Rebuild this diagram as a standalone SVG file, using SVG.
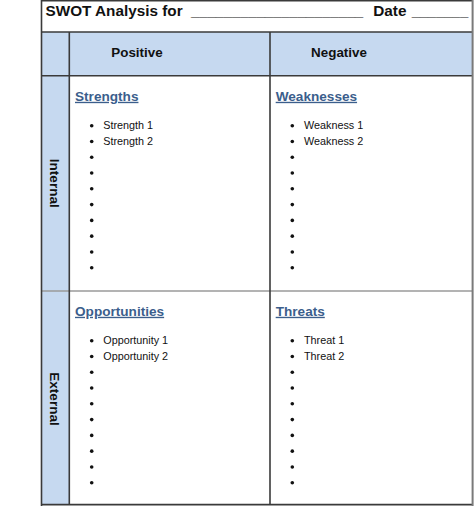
<svg xmlns="http://www.w3.org/2000/svg" width="474" height="506" viewBox="0 0 474 506">
<style>
  text { font-family: "Liberation Sans", Arial, sans-serif; fill: #111; }
  .title { font-size: 15.3px; font-weight: bold; }
  .hdr { font-size: 13.4px; font-weight: bold; }
  .side { font-size: 13.6px; font-weight: bold; }
  .head { font-size: 13.6px; font-weight: bold; fill: #3b5e8c; text-decoration: underline; }
  .item { font-size: 10.8px; fill: #111; }
  .blue { fill: #c6d9f0; }
  .dark { stroke: #3a3a3a; stroke-width: 1.6; fill: none; }
  .gray { stroke: #9a9a9a; stroke-width: 1.6; fill: none; }
  .edge { stroke: #7a7a7a; stroke-width: 2; fill: none; }
  .dot { fill: #111; }
</style>
<defs>
  <g id="bullets">
    <circle cx="0" cy="0" r="1.8" class="dot"/>
    <circle cx="0" cy="15.78" r="1.8" class="dot"/>
    <circle cx="0" cy="31.56" r="1.8" class="dot"/>
    <circle cx="0" cy="47.34" r="1.8" class="dot"/>
    <circle cx="0" cy="63.12" r="1.8" class="dot"/>
    <circle cx="0" cy="78.9" r="1.8" class="dot"/>
    <circle cx="0" cy="94.68" r="1.8" class="dot"/>
    <circle cx="0" cy="110.46" r="1.8" class="dot"/>
    <circle cx="0" cy="126.24" r="1.8" class="dot"/>
    <circle cx="0" cy="142.02" r="1.8" class="dot"/>
  </g>
</defs>
<rect x="0" y="0" width="474" height="506" fill="#ffffff"/>
<g id="backgrounds">
  <rect class="blue" x="41.5" y="32" width="431" height="43.7"/>
  <rect class="blue" x="41.5" y="75.7" width="27.8" height="428.8"/>
</g>
<g id="title">
  <text class="title" x="45.5" y="16">SWOT Analysis for</text>
  <text class="title" x="191" y="16" textLength="172.3" lengthAdjust="spacingAndGlyphs">_____________________</text>
  <text class="title" x="373.3" y="16">Date</text>
  <text class="title" x="411.7" y="16" textLength="56.6" lengthAdjust="spacingAndGlyphs">_______</text>
</g>
<g id="header-positive"><text class="hdr" x="137" y="57.3" text-anchor="middle">Positive</text></g>
<g id="header-negative"><text class="hdr" x="339" y="57.3" text-anchor="middle">Negative</text></g>
<g id="label-internal"><text class="side" transform="translate(49.8,183.3) rotate(90)" text-anchor="middle">Internal</text></g>
<g id="label-external"><text class="side" transform="translate(49.8,399) rotate(90)" text-anchor="middle">External</text></g>
<g id="strengths">
  <text class="head" x="75" y="100.8">Strengths</text>
  <use href="#bullets" x="91.7" y="125.7"/>
  <text class="item" x="103.3" y="129.4">Strength 1</text>
  <text class="item" x="103.3" y="145.2">Strength 2</text>
</g>
<g id="weaknesses">
  <text class="head" x="275.7" y="100.8">Weaknesses</text>
  <use href="#bullets" x="292.3" y="125.7"/>
  <text class="item" x="304" y="129.4">Weakness 1</text>
  <text class="item" x="304" y="145.2">Weakness 2</text>
</g>
<g id="opportunities">
  <text class="head" x="75" y="315.8">Opportunities</text>
  <use href="#bullets" x="91.7" y="340.7"/>
  <text class="item" x="103.3" y="344.4">Opportunity 1</text>
  <text class="item" x="103.3" y="360.2">Opportunity 2</text>
</g>
<g id="threats">
  <text class="head" x="275.7" y="315.8">Threats</text>
  <use href="#bullets" x="292.3" y="340.7"/>
  <text class="item" x="304" y="344.4">Threat 1</text>
  <text class="item" x="304" y="360.2">Threat 2</text>
</g>
<g id="grid-lines">
  <line class="gray" x1="41.5" y1="291" x2="472" y2="291"/>
  <line class="dark" x1="41.5" y1="0.8" x2="473" y2="0.8"/>
  <line class="dark" x1="41.5" y1="32" x2="472" y2="32"/>
  <line class="dark" x1="41.5" y1="75.7" x2="472" y2="75.7"/>
  <line class="dark" x1="41.5" y1="504.6" x2="473" y2="504.6"/>
  <line class="dark" x1="41.5" y1="0" x2="41.5" y2="506"/>
  <line class="dark" x1="69.3" y1="32" x2="69.3" y2="505"/>
  <line class="dark" x1="270" y1="32" x2="270" y2="505"/>
  <line class="edge" x1="472.6" y1="0" x2="472.6" y2="506"/>
</g>
</svg>
